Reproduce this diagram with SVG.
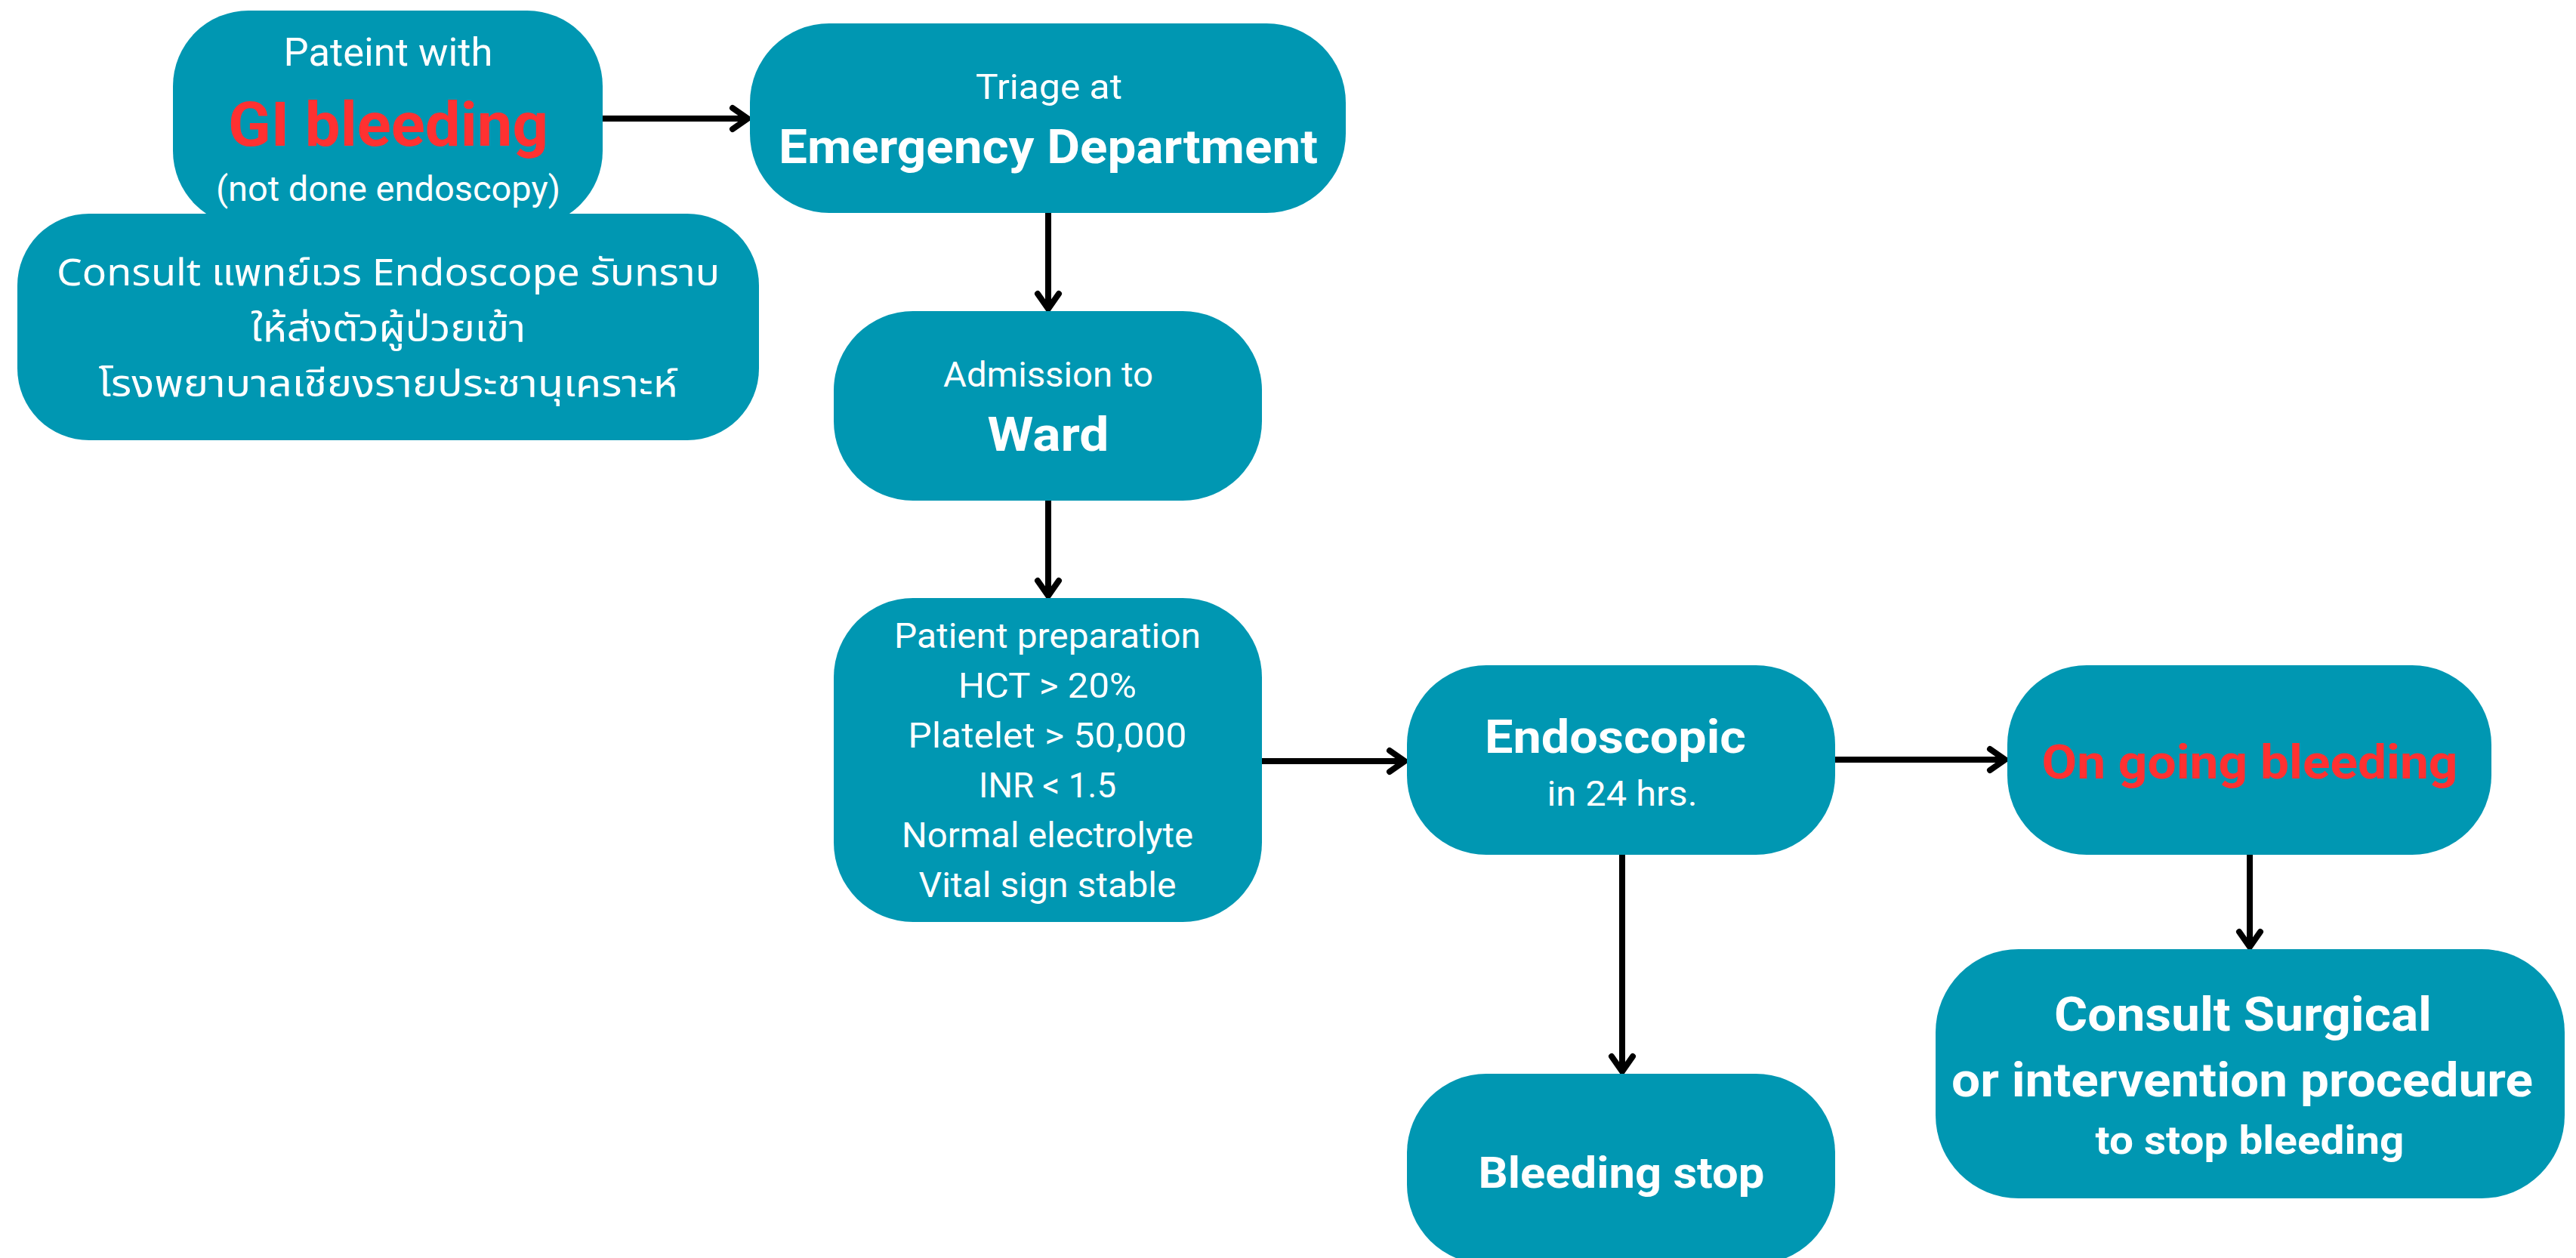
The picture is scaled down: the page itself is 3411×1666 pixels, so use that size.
<svg xmlns="http://www.w3.org/2000/svg" width="3411" height="1666" viewBox="0 0 3411 1666">
<style>
.box{fill:#0097b2}
text{font-family:Roboto,"Liberation Sans","Noto Sans",sans-serif;fill:#ffffff;text-anchor:middle}
.r{font-weight:400}
.b{font-weight:700}
.red{fill:#ff3131}
.th{font-family:"Noto Sans Thai","Noto Sans","Liberation Sans",sans-serif}
.edge{stroke:#000;stroke-width:8;fill:none}
</style>
<defs>
<marker id="ah" markerUnits="userSpaceOnUse" viewBox="-30 -20 36 40" refX="0" refY="0" markerWidth="36" markerHeight="40" orient="auto">
<path d="M-20,-14 L0,0 L-20,14" fill="none" stroke="#000" stroke-width="8" stroke-linecap="round" stroke-linejoin="miter"/>
</marker>
</defs>
<rect width="3411" height="1666" fill="#ffffff"/>
<g id="connectors">
<line class="edge" x1="798" y1="157" x2="990" y2="157" marker-end="url(#ah)"/>
<line class="edge" x1="1388" y1="282" x2="1388" y2="409" marker-end="url(#ah)"/>
<line class="edge" x1="1388" y1="663" x2="1388" y2="789" marker-end="url(#ah)"/>
<line class="edge" x1="1671" y1="1008" x2="1860" y2="1008" marker-end="url(#ah)"/>
<line class="edge" x1="2148" y1="1132" x2="2148" y2="1419" marker-end="url(#ah)"/>
<line class="edge" x1="2430" y1="1006" x2="2655" y2="1006" marker-end="url(#ah)"/>
<line class="edge" x1="2979" y1="1132" x2="2979" y2="1254" marker-end="url(#ah)"/>
</g>
<g id="node-gi">
<rect class="box" x="229" y="14" width="569" height="286" rx="100"/>
<text class="r" x="514" y="87" font-size="52" textLength="277" lengthAdjust="spacingAndGlyphs">Pateint with</text>
<text class="b red" x="514" y="193" font-size="81" textLength="424" lengthAdjust="spacingAndGlyphs">GI bleeding</text>
<text class="r" x="514" y="266" font-size="46" textLength="456" lengthAdjust="spacingAndGlyphs">(not done endoscopy)</text>
</g>
<g id="node-consult">
<rect class="box" x="23" y="283" width="982" height="300" rx="95"/>
<text class="r th" x="514" y="378" font-size="50" textLength="878" lengthAdjust="spacingAndGlyphs">Consult แพทย์เวร Endoscope รับทราบ</text>
<text class="r th" x="514" y="452" font-size="50" textLength="364" lengthAdjust="spacingAndGlyphs">ให้ส่งตัวผู้ป่วยเข้า</text>
<text class="r th" x="514" y="525" font-size="50" textLength="767" lengthAdjust="spacingAndGlyphs">โรงพยาบาลเชียงรายประชานุเคราะห์</text>
</g>
<g id="node-ed">
<rect class="box" x="993" y="31" width="789" height="251" rx="105"/>
<text class="r" x="1389" y="131" font-size="47" textLength="194" lengthAdjust="spacingAndGlyphs">Triage at</text>
<text class="b" x="1388" y="216" font-size="63" textLength="714" lengthAdjust="spacingAndGlyphs">Emergency Department</text>
</g>
<g id="node-ward">
<rect class="box" x="1104" y="412" width="567" height="251" rx="105"/>
<text class="r" x="1388" y="512" font-size="47" textLength="278" lengthAdjust="spacingAndGlyphs">Admission to</text>
<text class="b" x="1388" y="597" font-size="63" textLength="161" lengthAdjust="spacingAndGlyphs">Ward</text>
</g>
<g id="node-prep">
<rect class="box" x="1104" y="792" width="567" height="429" rx="105"/>
<text class="r" x="1387" y="858" font-size="47" textLength="406" lengthAdjust="spacingAndGlyphs">Patient preparation</text>
<text class="r" x="1387" y="924" font-size="47" textLength="236" lengthAdjust="spacingAndGlyphs">HCT &gt; 20%</text>
<text class="r" x="1387" y="990" font-size="47" textLength="369" lengthAdjust="spacingAndGlyphs">Platelet &gt; 50,000</text>
<text class="r" x="1387" y="1056" font-size="47" textLength="182" lengthAdjust="spacingAndGlyphs">INR &lt; 1.5</text>
<text class="r" x="1387" y="1122" font-size="47" textLength="386" lengthAdjust="spacingAndGlyphs">Normal electrolyte</text>
<text class="r" x="1387" y="1188" font-size="47" textLength="341" lengthAdjust="spacingAndGlyphs">Vital sign stable</text>
</g>
<g id="node-endo">
<rect class="box" x="1863" y="881" width="567" height="251" rx="105"/>
<text class="b" x="2139" y="997" font-size="62" textLength="346" lengthAdjust="spacingAndGlyphs">Endoscopic</text>
<text class="r" x="2148" y="1067" font-size="47" textLength="199" lengthAdjust="spacingAndGlyphs">in 24 hrs.</text>
</g>
<g id="node-stop">
<rect class="box" x="1863" y="1422" width="567" height="252" rx="105"/>
<text class="b" x="2147" y="1573" font-size="58" textLength="379" lengthAdjust="spacingAndGlyphs">Bleeding stop</text>
</g>
<g id="node-ongoing">
<rect class="box" x="2658" y="881" width="641" height="251" rx="105"/>
<text class="b red" x="2979" y="1031" font-size="63" textLength="551" lengthAdjust="spacingAndGlyphs">On going bleeding</text>
</g>
<g id="node-surgical">
<rect class="box" x="2563" y="1257" width="833" height="330" rx="110"/>
<text class="b" x="2970" y="1365" font-size="63" textLength="500" lengthAdjust="spacingAndGlyphs">Consult Surgical</text>
<text class="b" x="2969" y="1452" font-size="63" textLength="770" lengthAdjust="spacingAndGlyphs">or intervention procedure</text>
<text class="b" x="2979" y="1528" font-size="52" textLength="409" lengthAdjust="spacingAndGlyphs">to stop bleeding</text>
</g>
</svg>
